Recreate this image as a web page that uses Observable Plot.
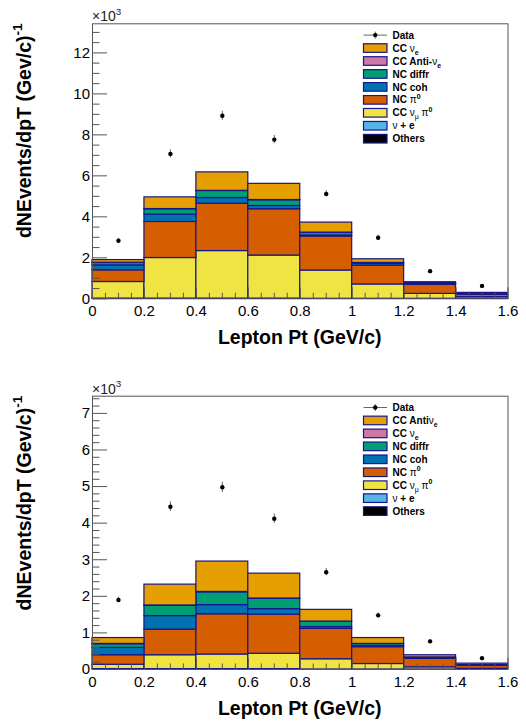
<!DOCTYPE html>
<html><head><meta charset="utf-8">
<script src="https://cdn.jsdelivr.net/npm/d3@7"></script>
<script src="https://cdn.jsdelivr.net/npm/@observablehq/plot@0.6"></script>
<style>body{margin:0;background:#fff} svg{display:block}</style>
</head><body><div id="c"></div>
<script>
// ---- bins (Lepton Pt, GeV/c) ----
const binLo = [0.0, 0.2, 0.4, 0.6, 0.8, 1.0, 1.2, 1.4];
const binHi = [0.2, 0.4, 0.6, 0.8, 1.0, 1.2, 1.4, 1.6];
const binCenter = [0.1, 0.3, 0.5, 0.7, 0.9, 1.1, 1.3, 1.5];

// ---- top panel (x10^3), stack order bottom -> top ----
const topOthers   = [0.00, 0.00, 0.00, 0.00, 0.00, 0.00, 0.00, 0.00];
const topNuE      = [0.01, 0.01, 0.01, 0.01, 0.00, 0.00, 0.00, 0.00];
const topCCnumuPi0= [0.81, 1.98, 2.32, 2.10, 1.38, 0.70, 0.24, 0.08];
const topNCpi0    = [0.57, 1.76, 2.31, 2.26, 1.66, 0.92, 0.44, 0.13];
const topNCcoh    = [0.24, 0.36, 0.28, 0.16, 0.05, 0.09, 0.04, 0.01];
const topNCdiffr  = [0.12, 0.26, 0.34, 0.28, 0.13, 0.04, 0.03, 0.01];
const topCCantiNue= [0.01, 0.01, 0.01, 0.01, 0.01, 0.00, 0.00, 0.00];
const topCCnue    = [0.13, 0.57, 0.90, 0.79, 0.49, 0.18, 0.06, 0.06];
const topData     = [2.83, 7.07, 8.93, 7.77, 5.12, 2.98, 1.35, 0.63];
const topErr      = [0.12, 0.20, 0.22, 0.20, 0.16, 0.12, 0.08, 0.06];

// ---- bottom panel (x10^3), stack order bottom -> top ----
const botOthers   = [0.00, 0.00, 0.00, 0.00, 0.00, 0.00, 0.00, 0.00];
const botNuE      = [0.01, 0.01, 0.01, 0.01, 0.00, 0.00, 0.00, 0.00];
const botCCnumuPi0= [0.12, 0.38, 0.40, 0.42, 0.28, 0.15, 0.06, 0.02];
const botNCpi0    = [0.26, 0.70, 1.10, 1.07, 0.83, 0.46, 0.23, 0.08];
const botNCcoh    = [0.20, 0.37, 0.25, 0.15, 0.05, 0.04, 0.02, 0.01];
const botNCdiffr  = [0.10, 0.28, 0.35, 0.28, 0.15, 0.05, 0.02, 0.01];
const botCCnue    = [0.01, 0.01, 0.01, 0.01, 0.00, 0.00, 0.00, 0.00];
const botCCantiNue= [0.16, 0.57, 0.83, 0.68, 0.32, 0.16, 0.06, 0.04];
const botData     = [1.90, 4.45, 4.98, 4.12, 2.66, 1.48, 0.77, 0.31];
const botErr      = [0.07, 0.13, 0.14, 0.13, 0.10, 0.07, 0.05, 0.03];

// colours, stack order bottom -> top
const stackColors = ["#000000", "#56B4E9", "#F0E442", "#D55E00", "#0072B2", "#009E73", "#CC79A7", "#E69F00"];
// legend (top -> bottom), colours matching each entry
const legendColors = ["#E69F00", "#CC79A7", "#009E73", "#0072B2", "#D55E00", "#F0E442", "#56B4E9", "#000000"];
const topLegendLabels = ["CC #nu_{e}", "CC Anti-#nu_{e}", "NC diffr", "NC coh", "NC #pi^{0}", "CC #nu_{#mu} #pi^{0}", "#nu + e", "Others"];
const botLegendLabels = ["CC Anti#nu_{e}", "CC #nu_{e}", "NC diffr", "NC coh", "NC #pi^{0}", "CC #nu_{#mu} #pi^{0}", "#nu + e", "Others"];

const xTicks = [0, 0.2, 0.4, 0.6, 0.8, 1, 1.2, 1.4, 1.6];
const topYTicks = [0, 2, 4, 6, 8, 10, 12];
const botYTicks = [0, 1, 2, 3, 4, 5, 6, 7];
const yTitle = "dNEvents/dpT (Gev/c)^{-1}";
const xTitle = "Lepton Pt (GeV/c)";
const expLabel = "\u00d710^{3}";

const OUTLINE = "#16168c";
const AXIS = "#555";
const FONT = "'Liberation Sans', Arial, Helvetica, sans-serif";

function latex(textSel, str, fs, bold) {
  const s = str.replace(/#nu/g, "\u03bd").replace(/#mu/g, "\u03bc").replace(/#pi/g, "\u03c0");
  const re = /([_^])\{([^}]*)\}/g;
  let last = 0, m, shift = 0;
  const segs = [];
  while ((m = re.exec(s)) !== null) {
    if (m.index > last) segs.push({t: s.slice(last, m.index), k: ""});
    segs.push({t: m[2], k: m[1]});
    last = re.lastIndex;
  }
  if (last < s.length) segs.push({t: s.slice(last), k: ""});
  for (const seg of segs) {
    const target = seg.k === "_" ? 0.3 * fs : seg.k === "^" ? -0.45 * fs : 0;
    const size = seg.k ? 0.7 * fs : fs;
    const parts = seg.t.split(/([\u03bd\u03bc\u03c0])/).filter(p => p.length);
    let first = true;
    for (const p of parts) {
      const ts = textSel.append("tspan").text(p)
        .attr("font-size", size)
        .attr("font-weight", /[\u03bd\u03bc\u03c0]/.test(p) ? "normal" : (bold ? "bold" : "normal"));
      if (first) { ts.attr("dy", target - shift); shift = target; first = false; }
    }
  }
}

function chart(opts) {
  const {series, data, err, yMax, yTicks, yMinor, legendLabels, marginTop, marginBottom, height} = opts;
  const marginLeft = 92, marginRight = 18.5, width = 526;
  const rows = [];
  const cum = binLo.map(() => 0);
  series.forEach((vals, k) => {
    vals.forEach((v, i) => {
      rows.push({x1: binLo[i], x2: binHi[i], y1: cum[i], y2: cum[i] + v, color: stackColors[k]});
      cum[i] += v;
    });
  });
  const pts = binCenter.map((x, i) => ({x, y: data[i], lo: data[i] - err[i], hi: data[i] + err[i]}));
  const plotW = width - marginLeft - marginRight;
  const plotH = height - marginTop - marginBottom;
  const yMinorTicks = d3.range(0, yMax, yMinor).filter(v => !yTicks.some(t => Math.abs(t - v) < 1e-6));
  const xMinorTicks = d3.range(0, 1.6, 0.05).filter(v => !xTicks.some(t => Math.abs(t - v) < 1e-6));
  const svg = Plot.plot({
    width, height, marginLeft, marginRight, marginTop, marginBottom,
    style: {fontFamily: FONT, fontSize: "15px", color: "#000", background: "#fff"},
    x: {domain: [0, 1.6]},
    y: {domain: [0, yMax]},
    color: {type: "identity"},
    marks: [
      Plot.rect(rows, {x1: "x1", x2: "x2", y1: "y1", y2: "y2", fill: "color", stroke: OUTLINE, strokeWidth: 1.2}),
      Plot.tickY(yTicks, {y: d => d, stroke: AXIS, insetRight: plotW - 15}),
      Plot.tickY(yMinorTicks, {y: d => d, stroke: AXIS, insetRight: plotW - 7.5}),
      Plot.tickX(xTicks, {x: d => d, stroke: AXIS, insetTop: plotH - 11}),
      Plot.tickX(xMinorTicks, {x: d => d, stroke: AXIS, insetTop: plotH - 5.5}),
      Plot.ruleX(pts, {x: "x", y1: "lo", y2: "hi", stroke: "#666", strokeWidth: 1}),
      Plot.dot(pts, {x: "x", y: "y", r: 2.2, fill: "#000"}),
      Plot.frame({stroke: AXIS}),
      Plot.axisY(yTicks, {tickSize: 0, tickPadding: 2.5, fontSize: 15, tickFormat: d => String(d)}),
      Plot.axisX(xTicks, {tickSize: 0, tickPadding: 6.5, fontSize: 15, tickFormat: d => String(d)})
    ]
  });
  const s = d3.select(svg);
  // exponent label
  const e = s.append("text").attr("x", marginLeft).attr("y", marginTop - 2)
    .attr("text-anchor", "start").attr("font-size", 14).attr("fill", "#222");
  latex(e, expLabel, 14, false);
  // y title
  const yt = s.append("text").attr("transform", `translate(31,${marginTop}) rotate(-90)`)
    .attr("text-anchor", "end").attr("font-size", 19.5);
  latex(yt, yTitle, 19.5, true);
  // x title
  s.append("text").attr("x", marginLeft + plotW / 2).attr("y", height - marginBottom + 45.7)
    .attr("text-anchor", "middle").attr("font-size", 19.5).attr("font-weight", "bold").text(xTitle);
  // legend
  const lg = s.append("g").attr("text-anchor", "start");
  const lx = 363.5, sw = 23.5, tx = 392.5, step = 12.95;
  const y0 = marginTop + 11.8;
  lg.append("line").attr("x1", lx).attr("x2", lx + sw).attr("y1", y0).attr("y2", y0).attr("stroke", "#666");
  lg.append("line").attr("x1", lx + sw / 2).attr("x2", lx + sw / 2).attr("y1", y0 - 3.5).attr("y2", y0 + 3.5).attr("stroke", "#666");
  lg.append("circle").attr("cx", lx + sw / 2).attr("cy", y0).attr("r", 2.2).attr("fill", "#000");
  lg.append("text").attr("x", tx).attr("y", y0 + 3.6).attr("font-size", 10).attr("font-weight", "bold").text("Data");
  legendLabels.forEach((lab, i) => {
    const y = y0 + step * (i + 1);
    lg.append("rect").attr("x", lx).attr("y", y - 4.3).attr("width", sw).attr("height", 8.6)
      .attr("fill", legendColors[i]).attr("stroke", OUTLINE).attr("stroke-width", 1.2);
    const t = lg.append("text").attr("x", tx).attr("y", y + 3.6).attr("font-size", 10);
    latex(t, lab, 10, true);
  });
  return svg;
}

const c = document.getElementById("c");
c.appendChild(chart({
  series: [topOthers, topNuE, topCCnumuPi0, topNCpi0, topNCcoh, topNCdiffr, topCCantiNue, topCCnue],
  data: topData, err: topErr, yMax: 13.42, yTicks: topYTicks, yMinor: 0.5,
  legendLabels: topLegendLabels, marginTop: 23.3, marginBottom: 63.7, height: 362
}));
c.appendChild(chart({
  series: [botOthers, botNuE, botCCnumuPi0, botNCpi0, botNCcoh, botNCdiffr, botCCnue, botCCantiNue],
  data: botData, err: botErr, yMax: 7.47, yTicks: botYTicks, yMinor: 0.2,
  legendLabels: botLegendLabels, marginTop: 33.7, marginBottom: 55, height: 362
}));
</script>
</body></html>
